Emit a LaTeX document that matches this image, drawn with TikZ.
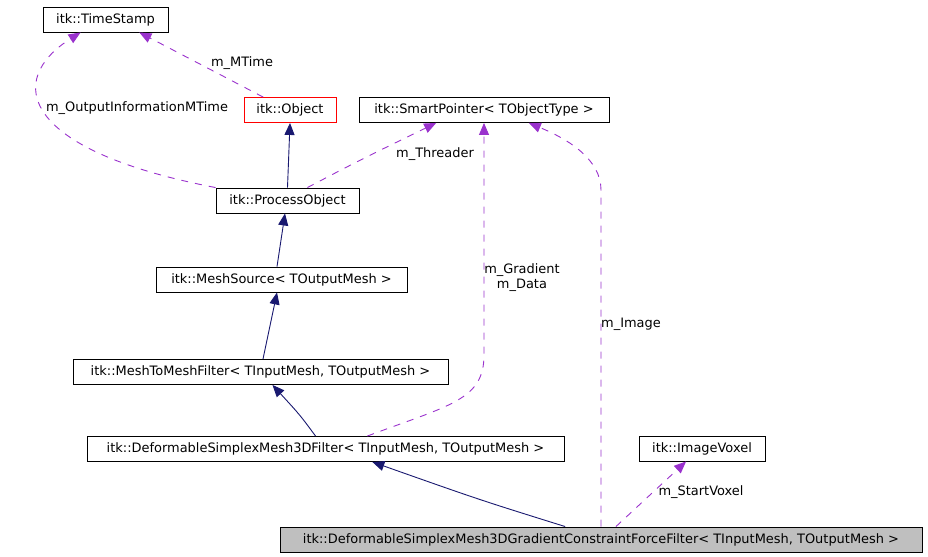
\documentclass[tikz,border=0pt]{standalone}
\usepackage{fontspec}
\setmainfont{DejaVu Sans}
\usetikzlibrary{arrows.meta}
\definecolor{memberpurple}{HTML}{9A32CD}
\definecolor{basenavy}{HTML}{191970}
\definecolor{focusgrey}{HTML}{BFBFBF}

\begin{document}
\begin{tikzpicture}[x=1bp,y=-1bp,line width=0.9bp,
  every node/.style={font=\fontsize{13}{15}\selectfont},
  cls/.style={draw,inner sep=0pt,minimum height=25bp},
  inherit/.style={basenavy,-{Triangle[length=12bp,width=10bp]}},
  member/.style={memberpurple,dash pattern=on 7bp off 7bp,-{Triangle[length=12bp,width=10bp]}},
  lbl/.style={inner sep=1bp,align=center}]
  \useasboundingbox (0,0) rectangle (928,557);
  % classes
  \node[cls,minimum width=125bp] (ts) at (105.5,19.5) {itk::TimeStamp};
  \node[cls,draw=red,minimum width=92bp] (obj) at (290,110) {itk::Object};
  \node[cls,minimum width=250bp] (sp) at (484,110) {itk::SmartPointer< TObjectType >};
  \node[cls,minimum width=143bp] (po) at (287.5,200.5) {itk::ProcessObject};
  \node[cls,minimum width=251bp] (ms) at (281.5,279.5) {itk::MeshSource< TOutputMesh >};
  \node[cls,minimum width=375bp] (mtm) at (260.5,372) {itk::MeshToMeshFilter< TInputMesh, TOutputMesh >};
  \node[cls,minimum width=477bp] (dsm) at (325.5,449) {itk::DeformableSimplexMesh3DFilter< TInputMesh, TOutputMesh >};
  \node[cls,minimum width=126bp] (iv) at (702,448.5) {itk::ImageVoxel};
  \node[cls,fill=focusgrey,minimum width=642bp] (bt) at (601,539.5) {itk::DeformableSimplexMesh3DGradientConstraintForceFilter< TInputMesh, TOutputMesh >};
  % inheritance
  \draw[inherit] (po.north) -- (obj.south);
  \draw[inherit] ([xshift=-4.5]ms.north) -- ([xshift=-2.5]po.south);
  \draw[inherit] ([xshift=2.5]mtm.north) -- ([xshift=-4.5]ms.south);
  \draw[inherit] ([xshift=-10]dsm.north) .. controls (300,415) .. ([xshift=12]mtm.south);
  \draw[inherit] ([xshift=-36]bt.north) .. controls (480,500) .. ([xshift=47]dsm.south);
  % members
  \draw[member] ([xshift=-27]obj.north) -- ([xshift=34]ts.south);
  \draw[member] (po.north west) .. controls (20,150) and (5,80) .. ([xshift=-25]ts.south);
  \draw[member] ([xshift=20]po.north) .. controls (360,160) .. ([xshift=-48]sp.south);
  \draw[member] ([xshift=42]dsm.north) .. controls (450,405) and (484,400) .. (484,355) -- (sp.south);
  \draw[member] (bt.north) -- (601,190) .. controls (601,160) and (570,140) .. ([xshift=45]sp.south);
  \draw[member] ([xshift=15]bt.north) -- ([xshift=-16]iv.south);
  % labels
  \node[lbl] (lmt) at (242,63) {m\_MTime};
  \node[lbl] (loim) at (137,108) {m\_OutputInformationMTime};
  \node[lbl] (lthr) at (435,154) {m\_Threader};
  \node[lbl] (lgrd) at (522,278) {m\_Gradient\\m\_Data};
  \node[lbl] (limg) at (631,324) {m\_Image};
  \node[lbl] (lsv) at (701,492) {m\_StartVoxel};
\end{tikzpicture}
\end{document}
